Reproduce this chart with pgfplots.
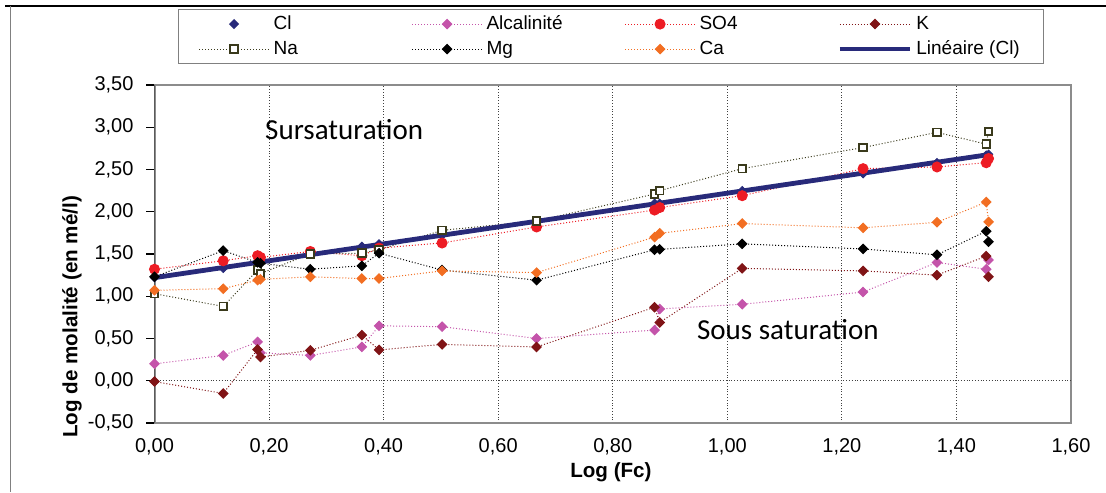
\documentclass[border=0pt]{standalone}
\usepackage{fontspec}
\setmainfont{Liberation Sans}
\newfontfamily\carlito{Carlito}
\usepackage{pgfplots}
\usepackage{pgfplotstable}
\pgfplotsset{compat=1.18}

\definecolor{clnavy}{RGB}{40,42,122}
\definecolor{alccol}{RGB}{196,84,170}
\definecolor{so4col}{RGB}{237,28,36}
\definecolor{kcol}{RGB}{128,20,22}
\definecolor{nacol}{RGB}{58,58,28}
\definecolor{cacol}{RGB}{242,110,34}

\pgfplotsset{mylegend/.style={legend image code/.code={\draw[mark repeat=2, mark phase=2, ##1] plot coordinates {(0pt,0pt) (17.5pt,0pt) (35pt,0pt)};}}}

% sample order as in the table of the chart
\pgfplotstableread{
x      Cl    Alc    SO4   K      Na    Mg     Ca
0.000  1.22  0.20   1.32  -0.01  1.03  1.23   1.07
0.120  1.33  0.30   1.42  -0.15  0.88  1.54   1.09
0.180  1.40  0.46   1.48  0.37   1.31  1.40   1.19
0.185  1.41  0.33   1.46  0.28   1.27  1.39   1.20
0.272  1.50  0.30   1.53  0.36   1.50  1.32   1.23
0.362  1.59  0.40   1.48  0.54   1.51  1.36   1.21
0.392  1.62  0.65   1.57  0.365  1.55  1.51   1.21
0.502  1.72  0.64   1.63  0.43   1.78  1.31   1.30
0.667  1.88  0.50   1.82  0.40   1.89  1.19   1.28
0.873  2.10  0.60   2.02  0.87   2.21  1.55   1.70
0.882  2.10  0.85   2.05  0.69   2.25  1.555  1.745
1.026  2.25  0.905  2.19  1.33   2.51  1.62   1.86
1.237  2.45  1.05   2.51  1.30   2.76  1.56   1.81
1.366  2.58  1.40   2.53  1.25   2.94  1.49   1.875
1.452  2.67  1.32   2.58  1.475  2.80  1.77   2.115
1.456  2.68  1.43   2.63  1.23   2.95  1.645  1.88
}\datatable

\begin{document}
\begin{tikzpicture}[x=1pt,y=1pt]
\useasboundingbox (0,0) rectangle (553,246);
\draw[black, line width=0.9pt] (2.5,243) -- (553,243);
\draw[gray, line width=0.5pt] (5,243) -- (5,0);
\begin{axis}[
  at={(77.25pt,34.5pt)}, anchor=south west,
  scale only axis, width=458.25pt, height=169pt,
  xmin=0, xmax=1.6, ymin=-0.5, ymax=3.5,
  xtick={0,0.2,0.4,0.6,0.8,1.0,1.2,1.4,1.6},
  ytick={-0.5,0,0.5,1,1.5,2,2.5,3,3.5},
  /pgf/number format/.cd, fixed, fixed zerofill, precision=2, use comma, assume math mode=true,
  /pgfplots/.cd,
  tick label style={font=\fontsize{10}{12}\selectfont},
  yticklabel style={xshift=-3pt},
  tick align=outside,
  major tick length=4pt,
  xtick style={draw=none},
  ytick style={black, line width=0.6pt},
  xtick pos=bottom, ytick pos=left,
  xmajorgrids,
  major grid style={densely dotted, black!75, line width=0.5pt},
  extra y ticks={0}, extra y tick labels={},
  extra y tick style={ymajorgrids=true},
  axis line style={draw=black!45, line width=1pt},
  xlabel={Log (Fc)},
  xlabel style={font=\bfseries\fontsize{10.3}{12}\selectfont, at={(rel axis cs:0.498,-0.146)}, anchor=center},
  ylabel={Log de molalité (en mé/l)},
  ylabel style={font=\bfseries\fontsize{10.3}{12}\selectfont, at={(rel axis cs:-0.090,0.314)}, anchor=center},
  legend columns=4,
  legend cell align=left,
  legend style={at={(rel axis cs:0.0256,1.2249)}, anchor=north west,
    draw=black!50, line width=0.6pt, inner xsep=10pt, inner ysep=2pt,
    font=\fontsize{9.5}{11}\selectfont, nodes={inner ysep=1pt}, row sep=2pt,
    /tikz/every even column/.append style={column sep=0pt}},
  mylegend,
  dia/.style={mark=square*, mark size=1.65pt, mark options={solid, rotate=45, draw=#1, fill=#1}},
]
\addplot[only marks, dia=clnavy, mark size=1.5pt, mylegend]
  table[x=x, y=Cl] {\datatable};
\addlegendentry{\makebox[67pt][l]{Cl}}
\addplot[alccol, densely dotted, line width=0.5pt, dia=alccol]
  table[x=x, y=Alc] {\datatable};
\addlegendentry{\makebox[67pt][l]{Alcalinité}}
\addplot[so4col, densely dotted, line width=0.5pt, mark=*, mark size=2.5pt, mark options={solid, fill=so4col}]
  table[x=x, y=SO4] {\datatable};
\addlegendentry{\makebox[67pt][l]{SO4}}
\addplot[kcol, densely dotted, line width=0.5pt, dia=kcol]
  table[x=x, y=K] {\datatable};
\addlegendentry{K}
\addplot[nacol, densely dotted, line width=0.5pt, mark=square*, mark size=1.9pt, mark options={solid, draw=nacol, fill=white, line width=0.9pt}]
  table[x=x, y=Na] {\datatable};
\addlegendentry{\makebox[67pt][l]{Na}}
\addplot[black, densely dotted, line width=0.5pt, dia=black]
  table[x=x, y=Mg] {\datatable};
\addlegendentry{\makebox[67pt][l]{Mg}}
\addplot[cacol, densely dotted, line width=0.5pt, dia=cacol]
  table[x=x, y=Ca] {\datatable};
\addlegendentry{\makebox[67pt][l]{Ca}}
\addplot[clnavy, line width=2.4pt, no marks] coordinates {(0,1.22) (1.456,2.676)};
\addlegendentry{Linéaire (Cl)}
\draw[black, line width=0.7pt] (rel axis cs:0,0) -- (rel axis cs:0,1);
\node[anchor=west, font=\carlito\fontsize{14.5}{17}\selectfont] at (axis cs:0.181,2.97) {Sursaturation};
\node[anchor=west, font=\carlito\fontsize{14.5}{17}\selectfont] at (axis cs:0.935,0.60) {Sous saturation};
\end{axis}
\end{tikzpicture}
\end{document}
